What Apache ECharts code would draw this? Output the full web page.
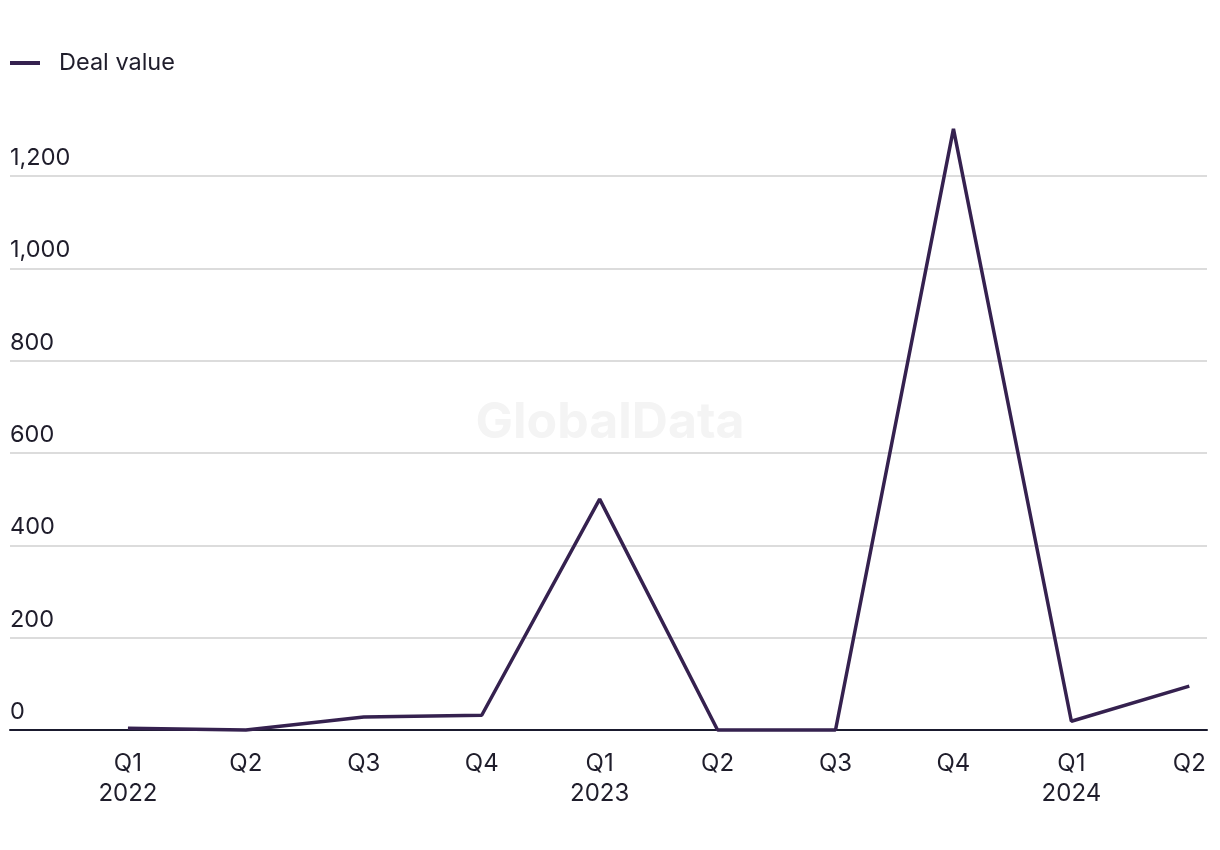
<!DOCTYPE html>
<html>
<head>
<meta charset="utf-8">
<script src="https://cdn.jsdelivr.net/npm/echarts@6/dist/echarts.min.js"></script>
<style>
html,body{margin:0;padding:0;background:#fff;}
#chart{width:1220px;height:850px;}
</style>
</head>
<body>
<div id="chart"></div>
<script>
const quarters = ['Q1', 'Q2', 'Q3', 'Q4', 'Q1', 'Q2', 'Q3', 'Q4', 'Q1', 'Q2'];
const years = ['2022', '', '', '', '2023', '', '', '', '2024', ''];
const dealValue = [4, 0, 28, 32, 500, 0, 0, 1302, 19, 95];
const yTicks = [0, 200, 400, 600, 800, 1000, 1200];

const FONT = 'Inter, "Noto Sans", sans-serif';
const TEXT = '#1f1d2b';

const chart = echarts.init(document.getElementById('chart'));
chart.setOption({
  backgroundColor: '#fff',
  animation: false,
  graphic: [{
    type: 'text',
    left: 'center',
    top: 398,
    z: 0,
    style: { text: 'GlobalData', font: 'bold 50px ' + FONT, fill: '#f4f4f4' }
  }],
  legend: {
    left: 10,
    top: 51,
    padding: 0,
    itemWidth: 30,
    itemHeight: 4,
    icon: 'rect',
    textStyle: { fontFamily: FONT, fontSize: 23.5, color: TEXT, padding: [0, 0, 0, 14] },
    data: ['Deal value']
  },
  grid: { left: 10, right: 13, top: 176, bottom: 120, containLabel: false },
  xAxis: {
    type: 'value',
    min: -1,
    max: 9.15,
    interval: 1,
    splitLine: { show: false },
    axisTick: { show: false },
    axisLine: { show: true, onZero: false, lineStyle: { color: '#1a1a2e', width: 2 } },
    axisLabel: {
      margin: 19,
      fontFamily: FONT, fontSize: 24, color: TEXT, lineHeight: 30,
      showMaxLabel: false,
      formatter: function (v) {
        const i = Math.round(v);
        if (Math.abs(v - i) > 1e-6 || i < 0 || i >= quarters.length) return '';
        return years[i] ? quarters[i] + '\n' + years[i] : quarters[i];
      }
    }
  },
  yAxis: {
    type: 'value',
    min: yTicks[0],
    max: yTicks[yTicks.length - 1],
    interval: 200,
    axisLine: { show: false },
    axisTick: { show: false },
    splitLine: { lineStyle: { color: '#dcdcdc', width: 2 } },
    axisLabel: {
      inside: true,
      margin: 0,
      align: 'left',
      verticalAlign: 'bottom',
      padding: [0, 0, 6, 0],
      fontFamily: FONT, fontSize: 23.5, color: TEXT,
      formatter: function (v) { return v.toLocaleString('en-US'); }
    }
  },
  series: [{
    name: 'Deal value',
    type: 'line',
    clip: false,
    symbol: 'none',
    color: '#35214f',
    lineStyle: { width: 3.5, color: '#35214f' },
    z: 5,
    data: dealValue.map((v, i) => [i, v])
  }]
});
</script>
</body>
</html>
